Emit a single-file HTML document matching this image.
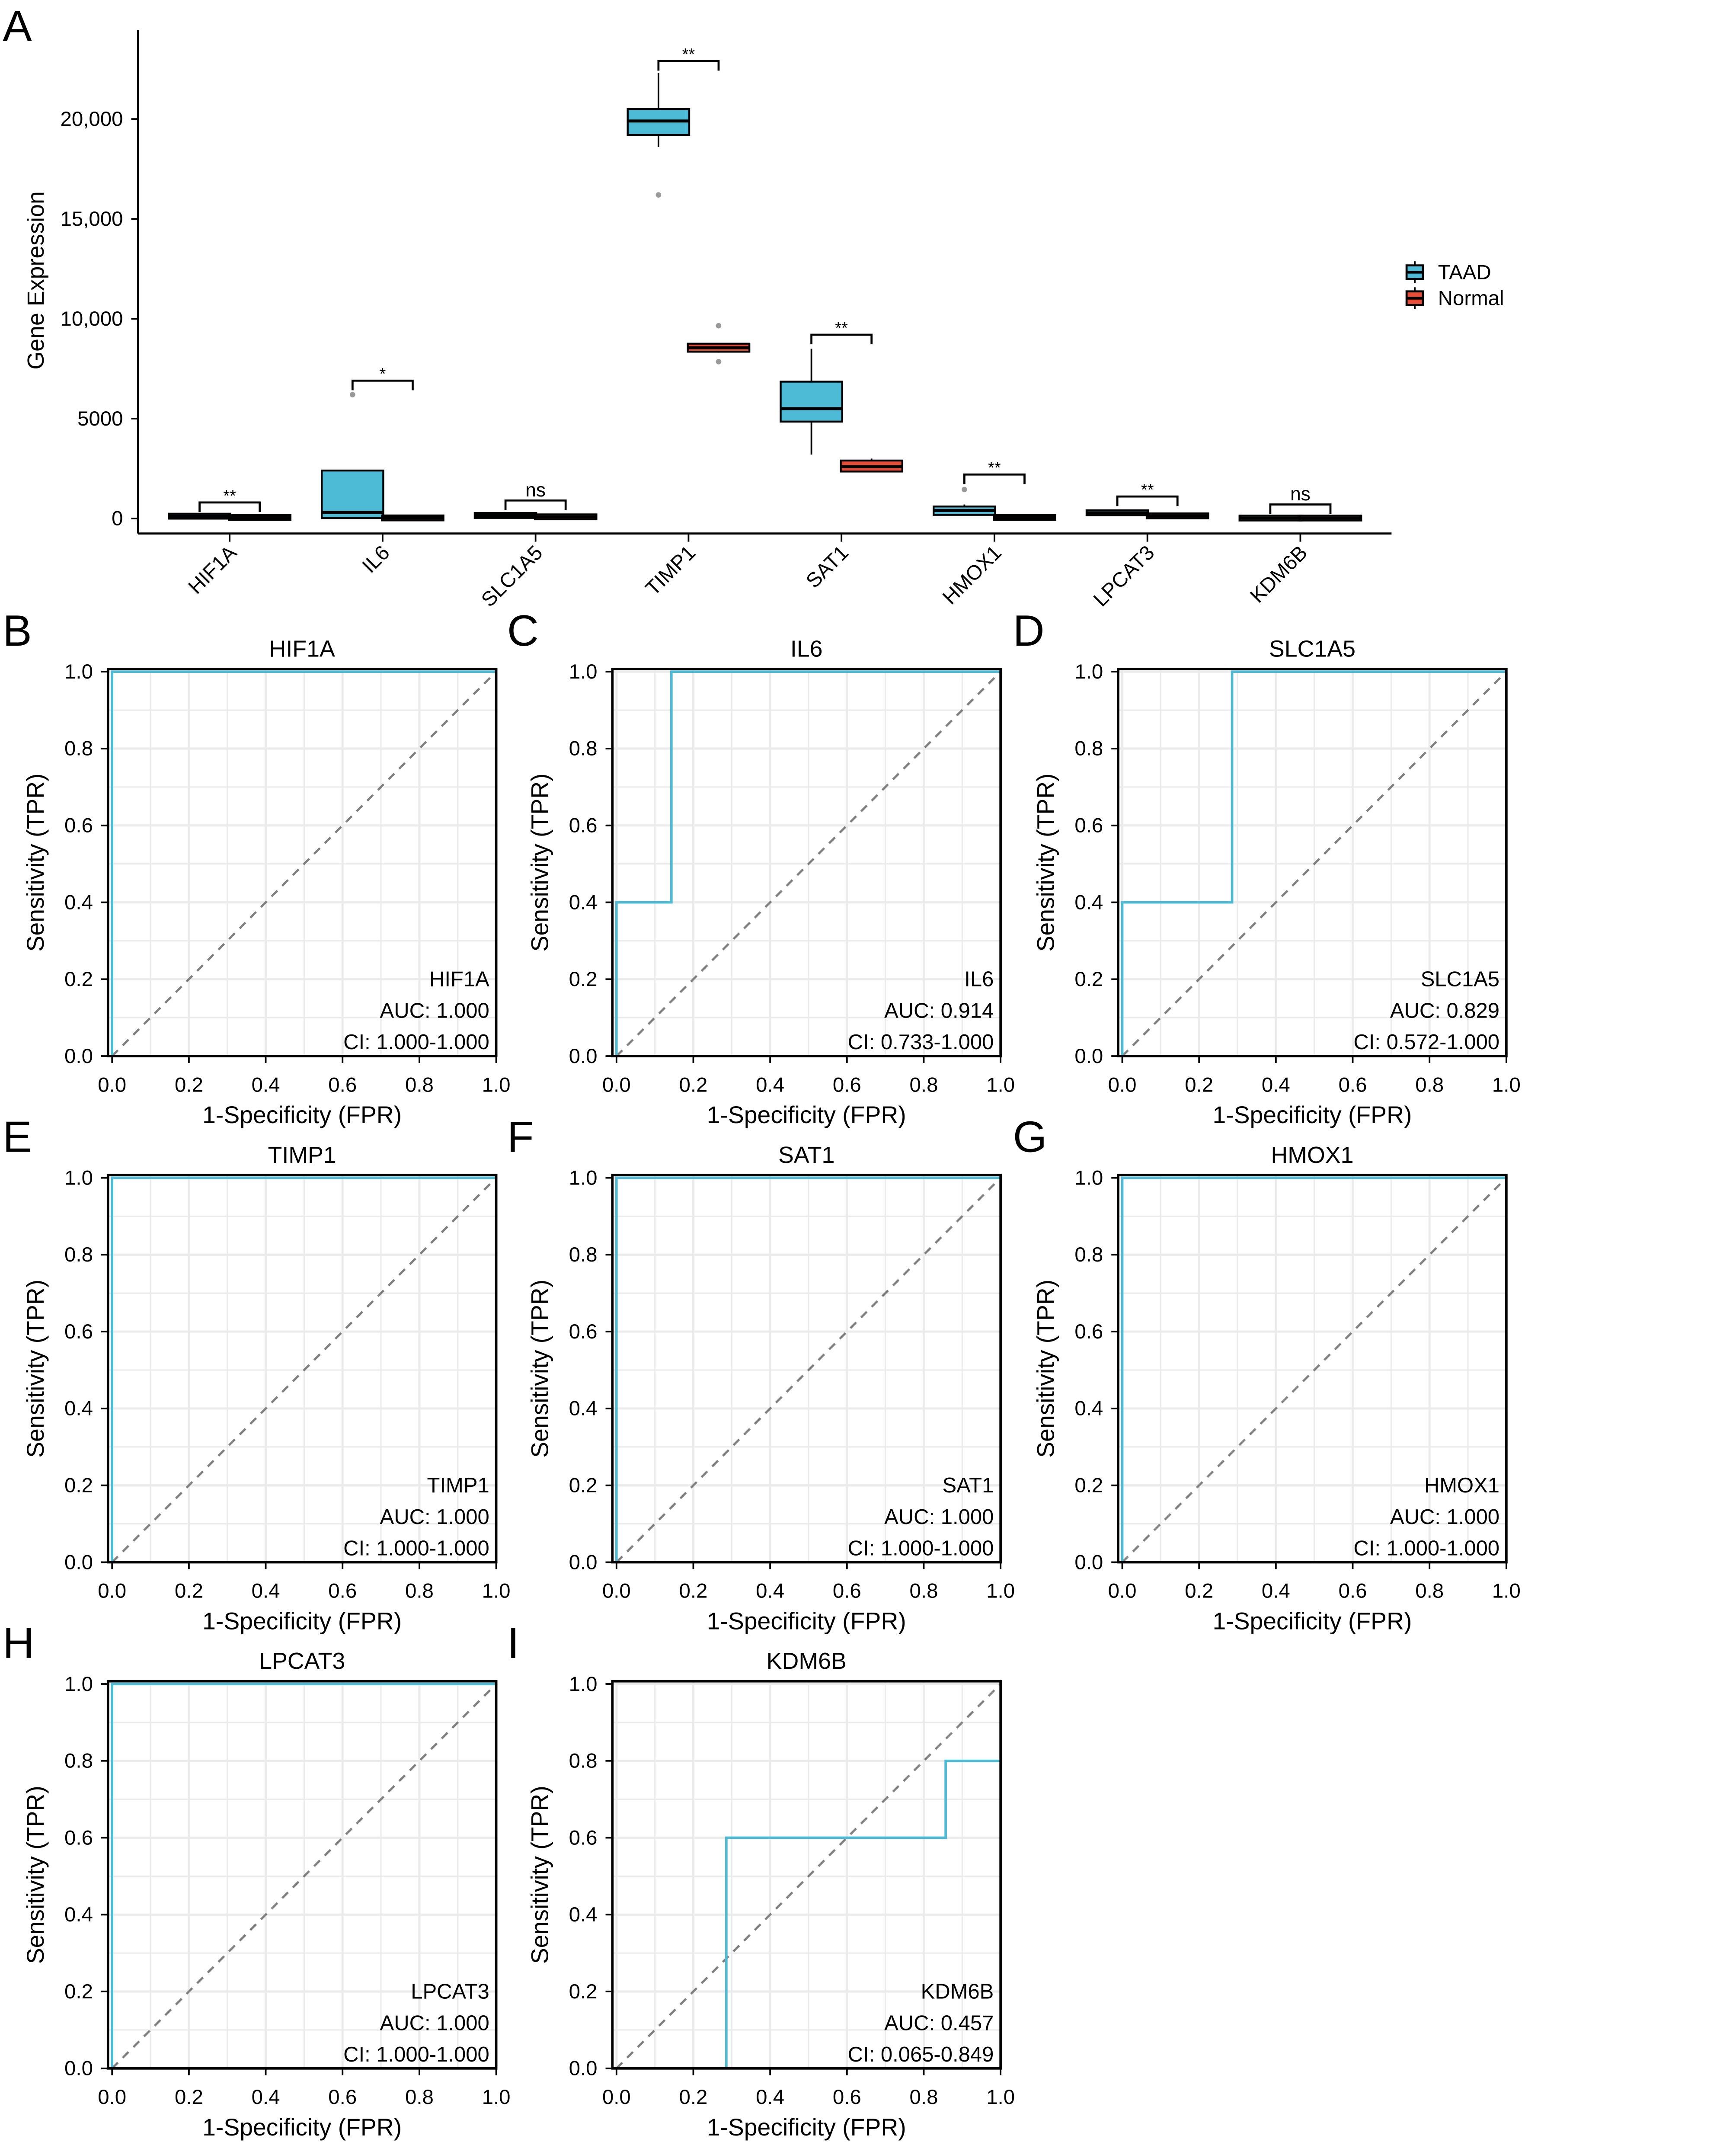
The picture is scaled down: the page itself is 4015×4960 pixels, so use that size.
<!DOCTYPE html>
<html><head><meta charset="utf-8"><style>
html,body{margin:0;padding:0;background:#fff;}
svg{display:block;font-family:"Liberation Sans",Arial,sans-serif;}
</style></head><body>
<svg id="fig" width="4015" height="4960" viewBox="0 0 1270 1568" preserveAspectRatio="none" xmlns="http://www.w3.org/2000/svg"></svg>
<script>
// ---------- Panel A data ----------
const genes = ["HIF1A","IL6","SLC1A5","TIMP1","SAT1","HMOX1","LPCAT3","KDM6B"];
// [whiskerLow, q1, median, q3, whiskerHigh]
const taadBox = [[60,80,110,150,180],[0,20,300,2400,2400],[90,110,150,190,220],[18600,19200,19900,20500,22300],[3200,4850,5500,6850,8500],[150,180,400,600,700],[200,220,280,350,380],[0,5,20,40,50]];
const normalBox = [[10,20,50,80,100],[0,5,30,50,60],[40,60,80,100,120],[8300,8350,8550,8750,8750],[2350,2350,2600,2900,3000],[10,20,50,80,100],[90,100,130,160,180],[0,5,20,40,50]];
const taadOutliers = [[],[6200],[],[16200],[],[1450],[],[]];
const normalOutliers = [[],[],[],[9650,7850],[],[],[],[]];
const sigLabels = ["**","*","ns","**","**","**","**","ns"];
const sigHeights = [800,6900,900,22900,9200,2200,1100,700];
const yTicks = [0,5000,10000,15000,20000];
const yTickLabels = ["0","5000","10,000","15,000","20,000"];

// ---------- ROC data ----------
const rocGenes = ["HIF1A","IL6","SLC1A5","TIMP1","SAT1","HMOX1","LPCAT3","KDM6B"];
const rocLetters = ["B","C","D","E","F","G","H","I"];
const rocFPR = [[0,0,1],[0,0,0.143,0.143,1],[0,0,0.286,0.286,1],[0,0,1],[0,0,1],[0,0,1],[0,0,1],[0.286,0.286,0.857,0.857,1]];
const rocTPR = [[0,1,1],[0,0.4,0.4,1,1],[0,0.4,0.4,1,1],[0,1,1],[0,1,1],[0,1,1],[0,1,1],[0,0.6,0.6,0.8,0.8]];
const rocAUC = ["1.000","0.914","0.829","1.000","1.000","1.000","1.000","0.457"];
const rocCI = ["1.000-1.000","0.733-1.000","0.572-1.000","1.000-1.000","1.000-1.000","1.000-1.000","1.000-1.000","0.065-0.849"];
const rocTicks = [0,0.2,0.4,0.6,0.8,1.0];
const rocTickLabels = ["0.0","0.2","0.4","0.6","0.8","1.0"];

const NS="http://www.w3.org/2000/svg";
const svg=document.getElementById('fig');
function el(tag,attrs,parent,text){const e=document.createElementNS(NS,tag);for(const k in attrs)e.setAttribute(k,attrs[k]);if(text!==undefined)e.textContent=text;(parent||svg).appendChild(e);return e;}

// ---------- Panel A ----------
const gA=el('g',{});


const yA=v=>379-v*73/5000;
const xA=i=>168+i*111.9;
const letterA=el('text',{x:2,y:30,'font-size':32},gA,'A');


el('line',{x1:101,y1:22,x2:101,y2:390,stroke:'#000','stroke-width':1.5},gA);
el('line',{x1:101,y1:390,x2:1018,y2:390,stroke:'#000','stroke-width':1.5},gA);
yTicks.forEach((t,i)=>{
  el('line',{x1:96,y1:yA(t),x2:101,y2:yA(t),stroke:'#000','stroke-width':1.2},gA);
  const tl=el('text',{x:90,y:yA(t)+5,'font-size':15,'text-anchor':'end'},gA,yTickLabels[i]);
  
  
});
const yt=el('text',{x:0,y:0,'font-size':17,'text-anchor':'middle',transform:'translate(32,205) rotate(-90)'},gA,'Gene Expression');


function drawBox(cx,b,fill,name){
  const g=el('g',{},gA);
  
  
  const w=45;
  el('line',{x1:cx,y1:yA(b[0]),x2:cx,y2:yA(b[4]),stroke:'#000','stroke-width':1.2},g);
  let top=yA(b[3]),bot=yA(b[1]);
  if(bot-top<3){const m=(top+bot)/2;top=m-1.8;bot=m+1.8;}
  el('rect',{x:cx-w/2,y:top,width:w,height:bot-top,fill:fill,stroke:'#000','stroke-width':1.4},g);
  el('line',{x1:cx-w/2,y1:yA(b[2]),x2:cx+w/2,y2:yA(b[2]),stroke:'#000','stroke-width':2.2},g);
}
genes.forEach((gname,i)=>{
  const c=xA(i);
  drawBox(c-22,taadBox[i],'#4EBBD6','box-taad-'+gname.toLowerCase());
  drawBox(c+22,normalBox[i],'#E64B35','box-normal-'+gname.toLowerCase());
  taadOutliers[i].forEach(v=>{const p=el('circle',{cx:c-22,cy:yA(v),r:2,fill:'#999'},gA);});
  normalOutliers[i].forEach(v=>{const p=el('circle',{cx:c+22,cy:yA(v),r:2,fill:'#999'},gA);});
  const by=yA(sigHeights[i]);
  const br=el('path',{d:`M${c-22},${by+7}V${by}H${c+22}V${by+7}`,fill:'none',stroke:'#000','stroke-width':1.5},gA);
  
  
  const st=el('text',{x:c,y:by-(sigLabels[i]==='ns'?3:1),'font-size':sigLabels[i]==='ns'?14:12,'text-anchor':'middle'},gA,sigLabels[i]);
  
  
  el('line',{x1:c,y1:390,x2:c,y2:396,stroke:'#000','stroke-width':1.2},gA);
  const xl=el('text',{x:0,y:0,'font-size':15,'text-anchor':'end',transform:`translate(${c+6},${405}) rotate(-45)`},gA,gname);
  
  
});
// legend
const leg=el('g',{},gA);


[['TAAD','#4EBBD6',199],['Normal','#E64B35',218]].forEach(([n,c,y])=>{
  const e=el('g',{},leg);
  
  
  el('line',{x1:1035,y1:y-8,x2:1035,y2:y+8,stroke:'#000','stroke-width':1.2},e);
  el('rect',{x:1029,y:y-5,width:12,height:10,fill:c,stroke:'#000','stroke-width':1.5},e);
  el('line',{x1:1029,y1:y,x2:1041,y2:y,stroke:'#000','stroke-width':2},e);
  el('text',{x:1052,y:y+5,'font-size':15},e,n);
});

// ---------- ROC panels ----------
const colX=[79,448,818], rowY=[489,859,1229];
const pw=284, ph=283;
rocGenes.forEach((gname,k)=>{
  const col=k%3,row=Math.floor(k/3);
  const L=colX[col],T=rowY[row],R=L+pw,B=T+ph;
  const x0=L+3;
  const sx=v=>x0+v*(R-x0), sy=v=>B-v*(B-T-2);
  const g=el('g',{});
  
  
  const lt=el('text',{x:L-77,y:T-17,'font-size':32},g,rocLetters[k]);
  
  
  const tt=el('text',{x:(L+R)/2,y:T-9,'font-size':17,'text-anchor':'middle'},g,gname);
  
  
  for(let i=0;i<=10;i++){
    const v=i/10, w=i%2===0?1.6:1;
    el('line',{x1:sx(v),y1:T,x2:sx(v),y2:B,stroke:'#EBEBEB','stroke-width':w},g);
    el('line',{x1:L,y1:sy(v),x2:R,y2:sy(v),stroke:'#EBEBEB','stroke-width':w},g);
  }
  const dg=el('line',{x1:sx(0),y1:sy(0),x2:sx(1),y2:sy(1),stroke:'#808080','stroke-width':1.6,'stroke-dasharray':'6,5'},g);
  
  
  const pts=rocFPR[k].map((f,i)=>sx(f)+','+sy(rocTPR[k][i])).join(' ');
  const cv=el('polyline',{points:pts,fill:'none',stroke:'#4EBBD6','stroke-width':1.8},g);
  
  
  el('rect',{x:L,y:T,width:pw,height:ph,fill:'none',stroke:'#000','stroke-width':1.8},g);
  rocTicks.forEach((t,i)=>{
    el('line',{x1:L-5,y1:sy(t),x2:L,y2:sy(t),stroke:'#000','stroke-width':1.2},g);
    const yl=el('text',{x:L-11,y:sy(t)+5,'font-size':15,'text-anchor':'end'},g,rocTickLabels[i]);
    
    
    el('line',{x1:sx(t),y1:B,x2:sx(t),y2:B+5,stroke:'#000','stroke-width':1.2},g);
    const xl=el('text',{x:sx(t),y:B+26,'font-size':15,'text-anchor':'middle'},g,rocTickLabels[i]);
    
    
  });
  const xt=el('text',{x:(L+R)/2,y:B+49,'font-size':17.5,'text-anchor':'middle'},g,'1-Specificity (FPR)');
  
  
  const yt2=el('text',{x:0,y:0,'font-size':17.5,'text-anchor':'middle',transform:`translate(${L-47},${(T+B)/2}) rotate(-90)`},g,'Sensitivity (TPR)');
  
  
  const ann=el('g',{},g);
  
  
  el('text',{x:R-5,y:B-51,'font-size':15.5,'text-anchor':'end'},ann,gname);
  el('text',{x:R-5,y:B-28,'font-size':15.5,'text-anchor':'end'},ann,'AUC: '+rocAUC[k]);
  el('text',{x:R-5,y:B-5,'font-size':15.5,'text-anchor':'end'},ann,'CI: '+rocCI[k]);
});
</script>
</body></html>
